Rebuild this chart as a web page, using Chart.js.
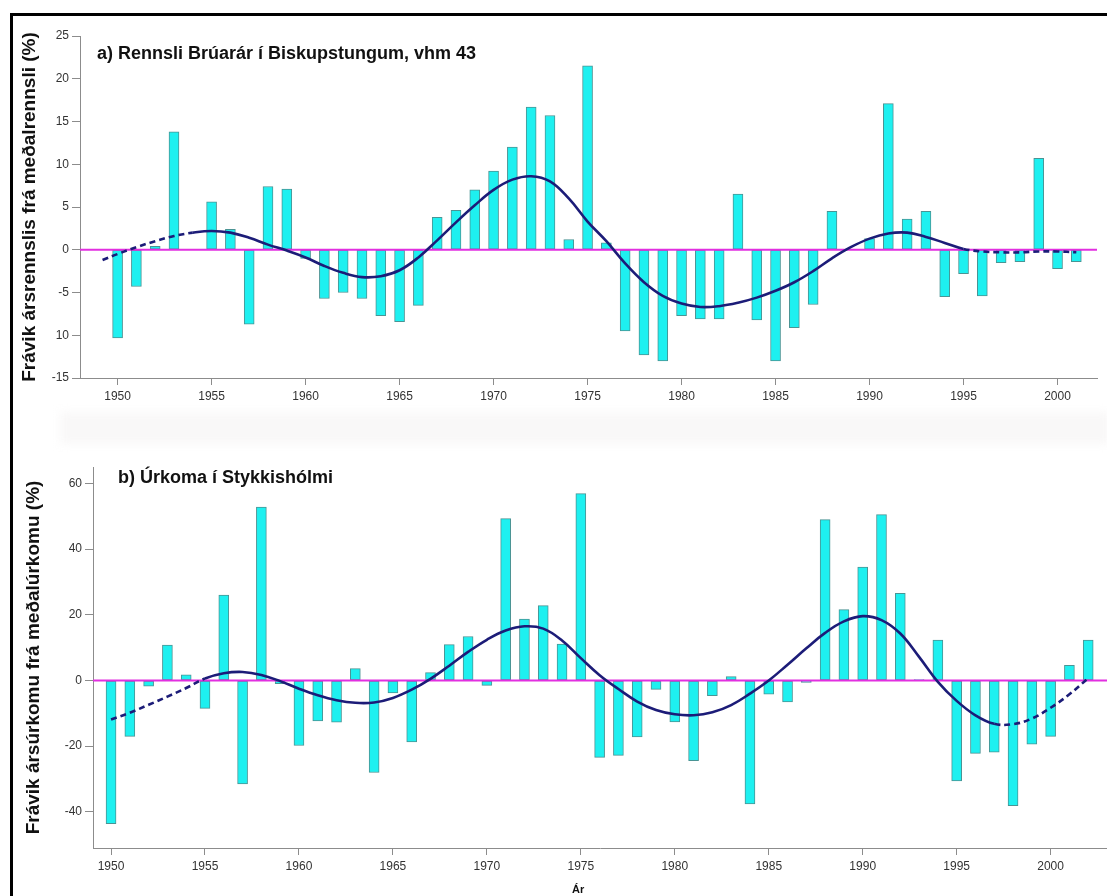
<!DOCTYPE html>
<html>
<head>
<meta charset="utf-8">
<script src="https://cdn.jsdelivr.net/npm/chart.js@4.4.1/dist/chart.umd.min.js"></script>
<style>
  html, body { margin: 0; padding: 0; background: #fff; }
  body { width: 1107px; height: 896px; position: relative; overflow: hidden;
         font-family: "Liberation Sans", Arial, sans-serif; }
  #frame { position: absolute; left: 10px; top: 13px; width: 1110px; height: 900px;
           border-top: 3px solid #000; border-left: 3px solid #000; }
  /* faint grey scanning band between the two panels */
  #band { position: absolute; left: 60px; top: 412px; width: 1050px; height: 32px;
          background: #f9f8f8; filter: blur(5px); }
  .panel { position: absolute; left: 0; width: 1107px; }
  #wrapA { top: 0; height: 420px; }
  #wrapB { top: 420px; height: 476px; }
  .ptitle { position: absolute; font-weight: bold; font-size: 18px; color: #111; white-space: nowrap; }
  #xlabelB { position: absolute; font-weight: bold; font-size: 11px; color: #111; }
</style>
</head>
<body>
<div id="frame"></div>
<div id="band"></div>
<div class="panel" id="wrapA"><canvas id="chartA"></canvas></div>
<div class="panel" id="wrapB"><canvas id="chartB"></canvas></div>
<div class="ptitle" style="left:97px; top:43px;">a) Rennsli Brúarár í Biskupstungum, vhm 43</div>
<div class="ptitle" style="left:118px; top:467px;">b) Úrkoma í Stykkishólmi</div>
<div id="xlabelB" style="left:572px; top:883px;">Ár</div>

<script>
// ---- Panel a: annual runoff anomaly, Brúará (vhm 43), % of mean ----
const yearsA = [1950,1951,1952,1953,1954,1955,1956,1957,1958,1959,
                1960,1961,1962,1963,1964,1965,1966,1967,1968,1969,
                1970,1971,1972,1973,1974,1975,1976,1977,1978,1979,
                1980,1981,1982,1983,1984,1985,1986,1987,1988,1989,
                1990,1991,1992,1993,1994,1995,1996,1997,1998,1999,
                2000,2001];
const runoffA = [-10.3,-4.3,0.4,13.8,0,5.6,2.4,-8.7,7.4,7.1,
                 -1.0,-5.7,-5.0,-5.7,-7.7,-8.4,-6.5,3.8,4.6,7.0,
                 9.2,12.0,16.7,15.7,1.2,21.5,0.8,-9.5,-12.3,-13.0,
                 -7.7,-8.1,-8.1,6.5,-8.2,-13.0,-9.1,-6.4,4.5,0,
                 1.3,17.1,3.6,4.5,-5.5,-2.8,-5.4,-1.5,-1.4,10.7,
                 -2.2,-1.4];
// smoothed trend for panel a
const trendYearsA = [1949.2,1950,1951,1952,1953,1954,1955,1956,1957,1958,1959,
                     1960,1961,1962,1963,1964,1965,1966,1967,1968,1969,
                     1970,1971,1972,1973,1974,1975,1976,1977,1978,1979,
                     1980,1981,1982,1983,1984,1985,1986,1987,1988,1989,
                     1990,1991,1992,1993,1994,1995,1996,1997,1998,1999,
                     2000,2001];
const trendA = [-1.2,-0.5,0.3,1.0,1.6,2.0,2.2,2.0,1.4,0.6,-0.1,
                -0.9,-1.9,-2.7,-3.2,-3.1,-2.4,-0.9,1.1,3.2,5.2,
                7.0,8.2,8.6,8.0,6.0,3.3,1.0,-1.6,-3.8,-5.4,
                -6.3,-6.7,-6.6,-6.2,-5.6,-4.8,-3.8,-2.5,-1.0,0.3,
                1.3,1.9,2.0,1.5,0.8,0.1,-0.2,-0.3,-0.3,-0.2,
                -0.2,-0.3];
const xTicksA = [1950,1955,1960,1965,1970,1975,1980,1985,1990,1995,2000];
const yTicksA = [-15,-10,-5,0,5,10,15,20,25];
const yLabelsA = ['-15','10','-5','0','5','10','15','20','25'];

// ---- Panel b: annual precipitation anomaly, Stykkishólmur, % of mean ----
const yearsB = [1950,1951,1952,1953,1954,1955,1956,1957,1958,1959,
                1960,1961,1962,1963,1964,1965,1966,1967,1968,1969,
                1970,1971,1972,1973,1974,1975,1976,1977,1978,1979,
                1980,1981,1982,1983,1984,1985,1986,1987,1988,1989,
                1990,1991,1992,1993,1994,1995,1996,1997,1998,1999,
                2000,2001,2002];
const precipB = [-43.6,-17.0,-1.7,10.8,1.7,-8.5,26.0,-31.5,52.8,-1.0,
                 -19.8,-12.3,-12.7,3.6,-28.0,-3.8,-18.7,2.4,10.9,13.4,
                 -1.5,49.3,18.7,22.8,11.1,56.9,-23.4,-22.8,-17.2,-2.7,
                 -12.6,-24.4,-4.6,1.2,-37.6,-4.2,-6.5,-0.6,49.0,21.6,
                 34.5,50.5,26.5,0.3,12.3,-30.6,-22.2,-21.8,-38.1,-19.4,
                 -17.0,4.6,12.3];
const trendYearsB = yearsB;
const trendB = [-11.9,-9.8,-7.4,-4.9,-2.3,0.6,2.2,2.6,1.7,-0.2,
                -2.5,-4.5,-6.0,-6.8,-6.7,-5.3,-2.8,0.5,4.5,8.7,
                12.4,15.2,16.5,15.8,12.2,6.8,1.6,-2.6,-6.4,-9.0,
                -10.3,-10.6,-9.7,-7.5,-4.0,0.0,4.8,9.8,14.5,18.0,
                19.6,18.4,14.3,7.2,-0.4,-6.2,-10.6,-13.2,-13.3,-11.6,
                -8.3,-4.2,0.7];
const xTicksB = [1950,1955,1960,1965,1970,1975,1980,1985,1990,1995,2000];
const yTicksB = [-40,-20,0,20,40,60];
const yLabelsB = ['-40','-20','0','20','40','60'];

// ---- shared styling ----
const BAR_FILL = '#1ef0f0';
const BAR_EDGE = '#4a9494';
const ZERO_COLOR = '#e22fe0';
const TREND_COLOR = '#1c1c78';
const AXIS_COLOR = '#8c8c8c';
const TICK_FONT = { family: '"Liberation Sans", Arial, sans-serif', size: 12 };
const TICK_COLOR = '#333';

// zero reference line, drawn just before the trend so it sits over the bars
const zeroLinePlugin = {
  id: 'zeroLine',
  beforeDatasetDraw(chart, args) {
    if (chart.data.datasets[args.index].type !== 'line') return;
    const { ctx, chartArea, scales } = chart;
    const y = scales.y.getPixelForValue(0);
    ctx.save();
    ctx.strokeStyle = ZERO_COLOR;
    ctx.lineWidth = 2.2;
    ctx.beginPath();
    ctx.moveTo(chartArea.left, y);
    ctx.lineTo(chartArea.right, y);
    ctx.stroke();
    ctx.restore();
  }
};

function makePanel(canvasId, cfg) {
  const bars = cfg.years.map((yr, i) => ({ x: yr, y: cfg.values[i] }));
  const trend = cfg.trendYears.map((yr, i) => ({ x: yr, y: cfg.trend[i] }));
  return new Chart(document.getElementById(canvasId), {
    type: 'bar',
    data: {
      datasets: [
        {
          type: 'line',
          data: trend,
          borderColor: TREND_COLOR,
          borderWidth: 2.6,
          pointRadius: 0,
          tension: 0.4,
          fill: false,
          order: 0,
          segment: {
            borderDash: ctx => (ctx.p1.parsed.x <= cfg.dashUntil || ctx.p0.parsed.x >= cfg.dashFrom) ? [6, 4] : undefined
          }
        },
        {
          type: 'bar',
          data: bars,
          backgroundColor: BAR_FILL,
          borderColor: BAR_EDGE,
          borderWidth: 1,
          borderSkipped: false,
          barThickness: 10,
          order: 1
        }
      ]
    },
    options: {
      responsive: true,
      maintainAspectRatio: false,
      animation: false,
      events: [],
      layout: { padding: cfg.padding },
      plugins: { legend: { display: false }, tooltip: { enabled: false }, title: { display: false } },
      scales: {
        x: {
          type: 'linear',
          offset: false,
          min: cfg.xMin,
          max: cfg.xMax,
          afterBuildTicks: s => { s.ticks = cfg.xTicks.map(v => ({ value: v })); },
          afterFit: s => { s.height = cfg.xHeight; },
          ticks: { font: TICK_FONT, color: TICK_COLOR, padding: 4, maxRotation: 0, autoSkip: false,
                   callback: v => String(v) },
          grid: { offset: false, drawOnChartArea: false, drawTicks: true, tickLength: 7, color: AXIS_COLOR },
          border: { display: true, color: AXIS_COLOR, width: 1 }
        },
        y: {
          type: 'linear',
          min: cfg.yMin,
          max: cfg.yMax,
          afterBuildTicks: s => { s.ticks = cfg.yTicks.map(v => ({ value: v })); },
          afterFit: s => { s.width = cfg.yWidth; },
          ticks: { font: TICK_FONT, color: TICK_COLOR, padding: 3,
                   callback: (v, i) => cfg.yLabels[i] },
          grid: { drawOnChartArea: false, drawTicks: true, tickLength: 8, color: AXIS_COLOR },
          border: { display: true, color: AXIS_COLOR, width: 1 },
          title: {
            display: true,
            text: cfg.yTitle,
            color: '#111',
            font: { family: '"Liberation Sans", Arial, sans-serif', size: 19, weight: 'bold' },
            padding: { top: cfg.yTitlePad, bottom: 0 }
          }
        }
      }
    },
    plugins: [zeroLinePlugin]
  });
}

makePanel('chartA', {
  years: yearsA, values: runoffA, trendYears: trendYearsA, trend: trendA,
  dashUntil: 1954, dashFrom: 1995,
  xMin: 1948, xMax: 2002.1, yMin: -15, yMax: 25,
  xTicks: xTicksA, yTicks: yTicksA, yLabels: yLabelsA,
  padding: { left: 0, top: 36, right: 10, bottom: 0 },
  xHeight: 42, yWidth: 80, yTitlePad: 18,
  yTitle: 'Frávik ársrennslis frá meðalrennsli (%)'
});

makePanel('chartB', {
  years: yearsB, values: precipB, trendYears: trendYearsB, trend: trendB,
  dashUntil: 1955, dashFrom: 1997,
  xMin: 1949.04, xMax: 2003, yMin: -51, yMax: 65,
  xTicks: xTicksB, yTicks: yTicksB, yLabels: yLabelsB,
  padding: { left: 0, top: 47, right: 0, bottom: 0 },
  xHeight: 48, yWidth: 93, yTitlePad: 22,
  yTitle: 'Frávik ársúrkomu frá meðalúrkomu (%)'
});
</script>
</body>
</html>
